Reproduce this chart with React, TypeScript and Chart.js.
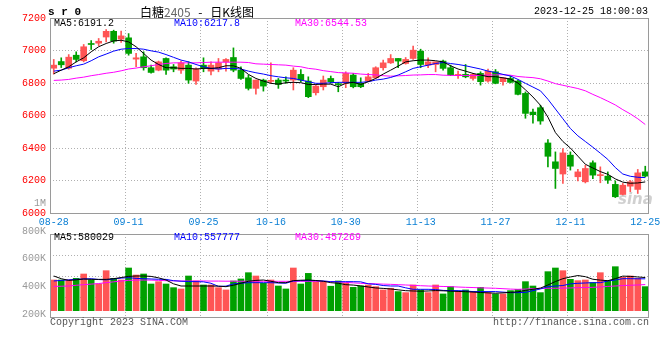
import React, { useEffect, useRef } from 'react';
import { Chart, registerables } from 'chart.js';

Chart.register(...registerables);

// ---------- data ----------
const DATES = [
  '08-28', '08-29', '08-30', '08-31', '09-01', '09-04', '09-05', '09-06', '09-07', '09-08',
  '09-11', '09-12', '09-13', '09-14', '09-15', '09-18', '09-19', '09-20', '09-21', '09-22',
  '09-25', '09-26', '09-27', '09-28', '10-09', '10-10', '10-11', '10-12', '10-13', '10-16',
  '10-17', '10-18', '10-19', '10-20', '10-23', '10-24', '10-25', '10-26', '10-27', '10-30',
  '10-31', '11-01', '11-02', '11-03', '11-06', '11-07', '11-08', '11-09', '11-10', '11-13',
  '11-14', '11-15', '11-16', '11-17', '11-20', '11-21', '11-22', '11-23', '11-24', '11-27',
  '11-28', '11-29', '11-30', '12-01', '12-04', '12-05', '12-06', '12-07', '12-08', '12-11',
  '12-12', '12-13', '12-14', '12-15', '12-18', '12-19', '12-20', '12-21', '12-22', '12-25',
];
const X_TICK_LABELS = ['08-28', '09-11', '09-25', '10-16', '10-30', '11-13', '11-27', '12-11', '12-25'];

const OPEN = [
  6891, 6932, 6891, 6971, 6937, 7040, 7045, 7083, 7118, 7070,
  7078, 6947, 6961, 6894, 6879, 6951, 6900, 6879, 6910, 6812,
  6910, 6873, 6886, 6930, 6957, 6879, 6832, 6767, 6818, 6810,
  6818, 6816, 6818, 6853, 6812, 6740, 6777, 6828, 6796, 6798,
  6849, 6798, 6812, 6832, 6894, 6924, 6951, 6920, 6951, 6996,
  6910, 6914, 6935, 6894, 6845, 6853, 6828, 6859, 6812, 6869,
  6808, 6828, 6812, 6736, 6621, 6648, 6431, 6315, 6240, 6356,
  6223, 6192, 6309, 6230, 6227, 6176, 6114, 6165, 6145, 6253,
];
const HIGH = [
  6945, 6955, 6975, 6992, 7037, 7061, 7074, 7128, 7125, 7120,
  7104, 6982, 6992, 6910, 6935, 6955, 6914, 6935, 6931, 6894,
  6955, 6931, 6951, 6951, 7016, 6900, 6849, 6818, 6824, 6924,
  6828, 6838, 6894, 6883, 6838, 6787, 6843, 6843, 6804, 6869,
  6859, 6832, 6859, 6900, 6941, 6975, 6951, 6957, 7027, 7008,
  6955, 6930, 6941, 6910, 6873, 6914, 6860, 6869, 6886, 6883,
  6832, 6843, 6818, 6745, 6639, 6663, 6452, 6376, 6396, 6376,
  6268, 6294, 6321, 6284, 6253, 6198, 6182, 6200, 6268, 6288,
];
const LOW = [
  6855, 6895, 6885, 6930, 6930, 7006, 7029, 7053, 7045, 7050,
  6971, 6900, 6879, 6860, 6875, 6853, 6869, 6859, 6798, 6791,
  6869, 6849, 6869, 6873, 6869, 6822, 6757, 6732, 6750, 6798,
  6767, 6798, 6757, 6808, 6710, 6726, 6757, 6798, 6746, 6771,
  6770, 6771, 6808, 6828, 6879, 6920, 6894, 6916, 6945, 6894,
  6894, 6869, 6879, 6845, 6828, 6832, 6818, 6787, 6805, 6795,
  6787, 6800, 6726, 6583, 6553, 6546, 6284, 6151, 6182, 6264,
  6198, 6185, 6212, 6186, 6182, 6095, 6110, 6131, 6120, 6222,
];
const CLOSE = [
  6910, 6912, 6959, 6945, 7023, 7037, 7057, 7118, 7058, 7090,
  6982, 6955, 6894, 6865, 6930, 6879, 6886, 6924, 6818, 6886,
  6894, 6910, 6924, 6945, 6879, 6828, 6767, 6818, 6781, 6814,
  6791, 6812, 6879, 6818, 6716, 6781, 6818, 6808, 6790, 6859,
  6777, 6777, 6838, 6894, 6924, 6951, 6935, 6945, 7002, 6914,
  6930, 6930, 6890, 6849, 6853, 6838, 6853, 6808, 6873, 6798,
  6832, 6804, 6730, 6613, 6605, 6566, 6349, 6274, 6370, 6288,
  6253, 6274, 6233, 6233, 6202, 6100, 6171, 6192, 6247, 6227,
];

const MA5 = [
  6857, 6879, 6900, 6930, 6955, 6992, 7023, 7043, 7059, 7063,
  7053, 7023, 6982, 6941, 6914, 6894, 6894, 6890, 6890, 6886,
  6890, 6890, 6894, 6906, 6906, 6890, 6853, 6828, 6812, 6798,
  6793, 6802, 6804, 6802, 6791, 6791, 6793, 6793, 6777, 6798,
  6804, 6791, 6808, 6828, 6855, 6879, 6904, 6930, 6937, 6941,
  6941, 6937, 6930, 6906, 6886, 6873, 6859, 6849, 6839, 6839,
  6832, 6824, 6800, 6758, 6714, 6663, 6590, 6495, 6440, 6400,
  6350, 6300, 6277, 6255, 6238, 6210, 6190, 6183, 6185, 6191.2,
];
const MA10 = [
  6873, 6879, 6894, 6906, 6916, 6937, 6961, 6978, 6996, 7008,
  7012, 7012, 7008, 6998, 6990, 6975, 6958, 6941, 6930, 6914,
  6900, 6890, 6886, 6890, 6890, 6886, 6873, 6863, 6855, 6845,
  6838, 6832, 6828, 6818, 6808, 6798, 6798, 6802, 6804, 6804,
  6804, 6804, 6808, 6818, 6824, 6834, 6849, 6869, 6890, 6900,
  6910, 6920, 6926, 6920, 6914, 6906, 6896, 6886, 6873, 6865,
  6853, 6843, 6822, 6798, 6775, 6752, 6700, 6640, 6580, 6520,
  6475, 6440, 6405, 6368, 6330, 6280, 6240, 6226, 6220, 6217.8,
];
const MA30 = [
  6816, 6818, 6822, 6830, 6836, 6845, 6852, 6860, 6866, 6875,
  6886, 6892, 6900, 6906, 6914, 6920, 6924, 6924, 6924, 6924,
  6926, 6928, 6928, 6928, 6928, 6928, 6926, 6918, 6916, 6914,
  6912, 6910, 6904, 6900, 6890, 6885, 6876, 6870, 6864, 6862,
  6860, 6855, 6852, 6850, 6845, 6842, 6844, 6846, 6849, 6850,
  6852, 6852, 6848, 6847, 6846, 6846, 6846, 6847, 6849, 6850,
  6851, 6848, 6840, 6836, 6833, 6826, 6812, 6796, 6786, 6776,
  6766, 6752, 6730, 6710, 6688, 6665, 6636, 6610, 6580, 6544.53,
];

// volume, in thousands (K)
const VOLUME = [
  537, 537, 537, 566, 642, 537, 467, 700, 566, 537,
  747, 624, 642, 467, 508, 467, 403, 380, 607, 520,
  450, 450, 403, 363, 520, 555, 665, 607, 479, 537,
  432, 380, 747, 467, 653, 508, 508, 428, 520, 479,
  409, 432, 450, 421, 363, 392, 334, 316, 450, 363,
  316, 450, 293, 421, 334, 363, 334, 409, 316, 293,
  293, 351, 374, 508, 432, 316, 683, 747, 700, 549,
  526, 537, 491, 665, 526, 770, 584, 607, 566, 421,
];
const VOL_MA5 = [
  607, 560, 530, 540, 555, 548, 548, 548, 560, 580,
  600, 607, 607, 600, 575, 537, 470, 432, 432, 432,
  432, 432, 430, 420, 445, 480, 515, 530, 537, 515,
  490, 490, 526, 533, 537, 528, 515, 490, 480, 455,
  448, 434, 415, 398, 390, 380, 365, 350, 345, 341,
  345, 352, 348, 342, 337, 332, 326, 318, 312, 306,
  312, 320, 330, 355, 375, 395, 450, 510, 560, 590,
  615, 595, 550, 535, 525, 560, 605, 600, 590, 580.029,
];
const VOL_MA10 = [
  520, 530, 540, 548, 555, 560, 545, 540, 555, 570,
  578, 565, 560, 555, 550, 548, 525, 515, 510, 508,
  505, 480, 425, 430, 470, 480, 490, 490, 490, 490,
  485, 480, 520, 526, 526, 526, 520, 508, 508, 508,
  508, 505, 470, 461, 440, 432, 432, 400, 374, 374,
  374, 370, 355, 351, 351, 345, 334, 334, 334, 334,
  325, 316, 316, 320, 351, 380, 420, 432, 440, 470,
  479, 485, 490, 490, 520, 537, 560, 560, 558, 557.777,
];
const VOL_MA30 = [
  425, 428, 432, 445, 455, 465, 475, 490, 505, 520,
  530, 535, 537, 535, 530, 525, 522, 520, 520, 520,
  520, 518, 518, 516, 516, 515, 515, 515, 515, 515,
  514, 514, 514, 514, 514, 514, 514, 510, 502, 495,
  487, 479, 475, 470, 465, 461, 455, 450, 443, 437,
  432, 428, 424, 420, 414, 409, 405, 400, 396, 392,
  385, 378, 374, 378, 385, 392, 392, 392, 395, 398,
  402, 405, 409, 415, 425, 432, 440, 445, 450, 457.269,
];

const PRICE_TICKS = [6000, 6200, 6400, 6600, 6800, 7000, 7200];
const VOLUME_TICK_VALUES = [1000, 800, 600, 400, 200];
const VOLUME_TICK_LABELS = ['1M', '800K', '600K', '400K', '200K'];

// ---------- layout / style ----------
const PRICE_RANGE = { min: 5353.85, max: 7200 };
const VOL_RANGE = { min: -128, max: 5122, panelTop: 1342 };
// the (uneven) volume label column of the original uses its own linear mapping
const VOL_LABEL_RANGE = { min: 171, max: 2337 };

const MONO = "'Liberation Mono', 'DejaVu Sans Mono', monospace";
const UP = '#ff5555';
const DOWN = '#00a000';
const GRID = '#b0b0b0';
const FRAME = '#9a9a9a';
const X_COLOR = '#0a7fd4';
const PRICE_LABEL_COLOR = '#ff0000';
const VOL_LABEL_COLOR = '#999999';
const MA_COLORS = ['#000000', '#0000ff', '#ff00ff'];

const last = (a: number[]) => a[a.length - 1];
const volLabelOnPriceAxis = (v: number) =>
  PRICE_RANGE.min +
  ((v - VOL_LABEL_RANGE.min) / (VOL_LABEL_RANGE.max - VOL_LABEL_RANGE.min)) * (PRICE_RANGE.max - PRICE_RANGE.min);

const panelPlugin = {
  id: 'panels',
  beforeDatasetsDraw(chart: any) {
    const { ctx, chartArea, scales } = chart;
    const x = scales.x, y = scales.y, yv = scales.yv;
    const pTop = y.getPixelForValue(PRICE_TICKS[PRICE_TICKS.length - 1]);
    const pBot = y.getPixelForValue(PRICE_TICKS[0]);
    const vTop = yv.getPixelForValue(VOL_RANGE.panelTop);
    const vBot = chartArea.bottom;
    ctx.save();
    ctx.strokeStyle = GRID;
    ctx.lineWidth = 1;
    ctx.setLineDash([1, 2]);
    x.ticks.forEach((t: any, k: number) => {
      if (k === 0 || k === x.ticks.length - 1) return;
      const px = Math.round(x.getPixelForValue(t.value - 0.5)) + 0.5;
      ctx.beginPath();
      ctx.moveTo(px, pTop);
      ctx.lineTo(px, pBot);
      ctx.moveTo(px, vTop);
      ctx.lineTo(px, vBot);
      ctx.stroke();
    });
    ctx.restore();
  },
  afterDatasetsDraw(chart: any) {
    const { ctx, chartArea, scales } = chart;
    const y = scales.y, yv = scales.yv;
    const l = Math.round(chartArea.left) + 0.5;
    const r = Math.round(chartArea.right) - 0.5;
    const pTop = Math.round(y.getPixelForValue(PRICE_TICKS[PRICE_TICKS.length - 1])) + 0.5;
    const pBot = Math.round(y.getPixelForValue(PRICE_TICKS[0])) + 0.5;
    const vTop = Math.round(yv.getPixelForValue(VOL_RANGE.panelTop)) + 0.5;
    const vBot = Math.round(chartArea.bottom) - 0.5;
    ctx.save();
    ctx.strokeStyle = FRAME;
    ctx.lineWidth = 1;
    ctx.strokeRect(l, pTop, r - l, pBot - pTop);
    ctx.strokeRect(l, vTop, r - l, vBot - vTop);
    ctx.restore();
  },
};

export default function App() {
  const ref = useRef<HTMLCanvasElement>(null);

  useEffect(() => {
    const idx = DATES.map((_, i) => i);
    const colors = idx.map((i) => (CLOSE[i] >= OPEN[i] ? UP : DOWN));
    const line = (label: string, data: number[], color: string, yAxisID: string) => ({
      type: 'line' as const,
      label,
      data: data.map((v, i) => ({ x: i, y: v })),
      borderColor: color,
      borderWidth: 1,
      pointRadius: 0,
      tension: 0,
      fill: false,
      yAxisID,
      order: 0,
    });
    const nPrice = PRICE_TICKS.length;

    const chart = new Chart(ref.current as HTMLCanvasElement, {
      type: 'bar',
      data: {
        datasets: [
          line('MA5', MA5, MA_COLORS[0], 'y'),
          line('MA10', MA10, MA_COLORS[1], 'y'),
          line('MA30', MA30, MA_COLORS[2], 'y'),
          line('VMA5', VOL_MA5, MA_COLORS[0], 'yv'),
          line('VMA10', VOL_MA10, MA_COLORS[1], 'yv'),
          line('VMA30', VOL_MA30, MA_COLORS[2], 'yv'),
          {
            type: 'bar',
            label: 'body',
            data: idx.map((i) => ({ x: i, y: [OPEN[i], CLOSE[i]] })) as any,
            backgroundColor: colors,
            barThickness: 6,
            minBarLength: 1,
            grouped: false,
            yAxisID: 'y',
            order: 1,
          },
          {
            type: 'bar',
            label: 'wick',
            data: idx.map((i) => ({ x: i, y: [LOW[i], HIGH[i]] })) as any,
            backgroundColor: colors,
            barThickness: 1,
            grouped: false,
            yAxisID: 'y',
            order: 2,
          },
          {
            type: 'bar',
            label: 'volume',
            data: idx.map((i) => ({ x: i, y: VOLUME[i] })) as any,
            backgroundColor: colors,
            barThickness: 6,
            grouped: false,
            yAxisID: 'yv',
            order: 3,
          },
        ] as any,
      },
      options: {
        responsive: false,
        devicePixelRatio: 1,
        animation: false,
        events: [],
        layout: { padding: { left: 0, right: 11, top: 18, bottom: 42 } },
        plugins: { legend: { display: false }, tooltip: { enabled: false }, title: { display: false } },
        scales: {
          x: {
            type: 'linear',
            min: -0.5,
            max: DATES.length - 0.5,
            offset: false,
            position: { y: PRICE_TICKS[0] } as any,
            afterBuildTicks: (s: any) => {
              s.ticks = X_TICK_LABELS.map((l) => ({ value: DATES.indexOf(l) }));
            },
            afterFit: (s: any) => {
              s.height = 0;
              s.paddingLeft = 0;
              s.paddingRight = 0;
            },
            grid: { display: false, drawTicks: false },
            border: { display: false },
            ticks: {
              autoSkip: false,
              maxRotation: 0,
              minRotation: 0,
              padding: 3,
              color: X_COLOR,
              font: { family: MONO, size: 10 },
              callback: (v: any) => DATES[v as number],
            },
          },
          y: {
            type: 'linear',
            position: 'left',
            min: PRICE_RANGE.min,
            max: PRICE_RANGE.max,
            afterBuildTicks: (s: any) => {
              s.ticks = [
                ...PRICE_TICKS.map((v) => ({ value: v })),
                ...VOLUME_TICK_VALUES.map((v) => ({ value: volLabelOnPriceAxis(v) })),
              ];
            },
            afterFit: (s: any) => {
              s.width = 50;
            },
            grid: {
              color: (c: any) => (c.index < nPrice ? GRID : 'rgba(0,0,0,0)'),
              drawTicks: false,
            },
            border: { display: false, dash: [1, 2] },
            ticks: {
              autoSkip: false,
              color: (c: any) => (c.index < nPrice ? PRICE_LABEL_COLOR : VOL_LABEL_COLOR),
              padding: 4,
              font: { family: MONO, size: 10 },
              callback: (v: any, i: number) => (i < nPrice ? String(v) : VOLUME_TICK_LABELS[i - nPrice]),
            },
          },
          yv: {
            type: 'linear',
            axis: 'y',
            position: 'right',
            min: VOL_RANGE.min,
            max: VOL_RANGE.max,
            afterBuildTicks: (s: any) => {
              const top = VOL_RANGE.panelTop;
              const bot = VOL_RANGE.min;
              s.ticks = [1, 2, 3].map((j) => ({ value: top - ((top - bot) * j) / 4 }));
            },
            afterFit: (s: any) => {
              s.width = 0;
            },
            grid: { color: GRID, drawTicks: false },
            border: { display: false, dash: [1, 2] },
            ticks: { display: false },
          },
        } as any,
      },
      plugins: [panelPlugin],
    });
    return () => chart.destroy();
  }, []);

  const txt = (extra: React.CSSProperties): React.CSSProperties => ({
    position: 'absolute',
    fontFamily: MONO,
    fontSize: 10,
    lineHeight: '12px',
    whiteSpace: 'pre',
    ...extra,
  });

  return (
    <div style={{ position: 'absolute', left: 0, top: 0, width: 660, height: 360, background: '#ffffff', overflow: 'hidden' }}>
      <canvas ref={ref} width={660} height={360} style={{ display: 'block' }} />
      <span style={txt({ left: 48, top: 5, fontSize: 11, lineHeight: '14px', fontWeight: 'bold', color: '#000' })}>s r 0</span>
      <span
        style={txt({
          left: 140,
          top: 5,
          fontSize: 12,
          lineHeight: '14px',
          fontFamily: "'Noto Sans CJK SC', 'Noto Sans', sans-serif",
          wordSpacing: 5,
          color: '#000',
        })}
      >
        白糖<span style={{ color: '#666' }}>2405</span> - 日K线图
      </span>
      <span style={txt({ right: 12, top: 6, color: '#000' })}>2023-12-25 18:00:03</span>

      <span style={txt({ left: 54, top: 18, color: MA_COLORS[0] })}>{'MA5:' + last(MA5)}</span>
      <span style={txt({ left: 174, top: 18, color: MA_COLORS[1] })}>{'MA10:' + last(MA10)}</span>
      <span style={txt({ left: 295, top: 18, color: MA_COLORS[2] })}>{'MA30:' + last(MA30)}</span>

      <span style={txt({ left: 54, top: 232, color: MA_COLORS[0] })}>{'MA5:' + Math.round(last(VOL_MA5) * 1000)}</span>
      <span style={txt({ left: 174, top: 232, color: MA_COLORS[1] })}>{'MA10:' + Math.round(last(VOL_MA10) * 1000)}</span>
      <span style={txt({ left: 295, top: 232, color: MA_COLORS[2] })}>{'MA30:' + Math.round(last(VOL_MA30) * 1000)}</span>

      <span
        style={txt({
          left: 618,
          top: 191,
          fontFamily: "'DejaVu Sans', sans-serif",
          fontSize: 15,
          lineHeight: '16px',
          fontStyle: 'italic',
          fontWeight: 'bold',
          color: 'rgba(170,170,170,0.55)',
        })}
      >
        sina
      </span>

      <span style={txt({ left: 50, top: 317, color: '#555' })}>Copyright 2023 SINA.COM</span>
      <span style={txt({ right: 11, top: 317, color: '#555' })}>http://finance.sina.com.cn</span>
    </div>
  );
}
